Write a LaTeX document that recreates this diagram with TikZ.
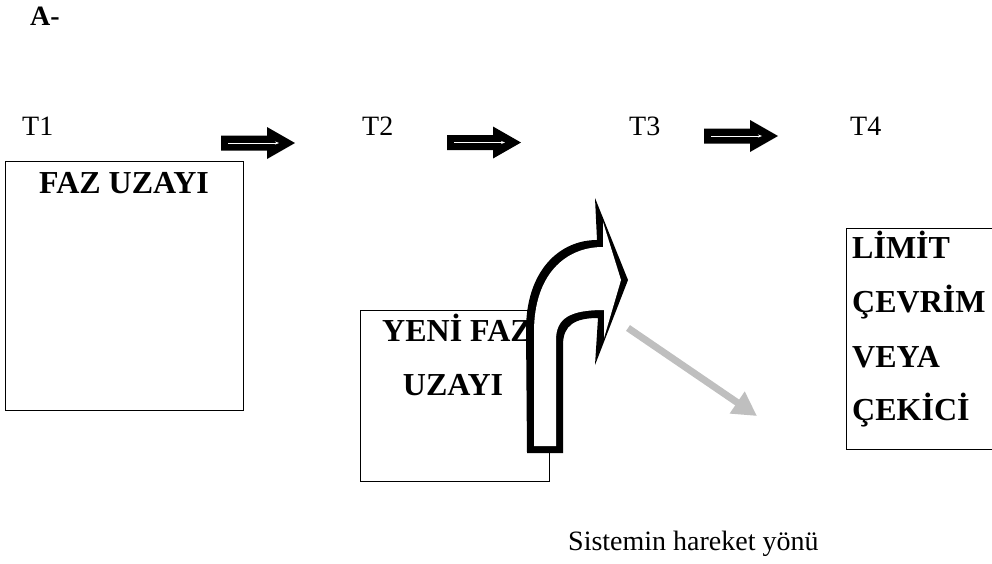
\documentclass[tikz,border=0pt]{standalone}
\usepackage{fontspec}
\setmainfont{Liberation Serif}
\usetikzlibrary{arrows.meta}
\definecolor{gri}{RGB}{191,191,191}

\begin{document}
\begin{tikzpicture}[x=1pt, y=-1pt,
    kutu/.style={line width=0.8pt},
    yazi/.style={font=\fontsize{28}{34}\selectfont, inner sep=0pt, anchor=base west},
    kalin/.style={font=\fontsize{32}{38}\selectfont\bfseries, inner sep=0pt, anchor=base west}]

    \useasboundingbox (0,0) rectangle (992,563);

    \node[kalin, font=\fontsize{28}{34}\selectfont\bfseries] (baslik) at (30,25) {A-};

    \node[yazi] (t1) at (22,135) {T1};
    \node[yazi] (t2) at (362,135) {T2};
    \node[yazi] (t3) at (629,135) {T3};
    \node[yazi] (t4) at (850,135) {T4};

    \foreach \x/\y in {221/143, 447/142.5, 704/136} {
        \fill (\x,\y-7.5) -- ++(46,0) -- ++(0,-8.5) -- (\x+74,\y) -- (\x+46,\y+16) -- ++(0,-8.5) -- (\x,\y+7.5) -- cycle;
        \draw[white, line width=0.8pt, -{Stealth[length=4pt,width=3pt]}] (\x+7,\y) -- (\x+58,\y);
    }

    \draw[kutu] (5,161) rectangle (243,410);
    \node[kalin, anchor=base] (faz) at (124,193) {FAZ UZAYI};

    \draw[kutu] (360,310) rectangle (549,481);
    \node[kalin] (yeni) at (382,341) {YENİ FAZ};
    \node[kalin, anchor=base] (uzayi) at (453,395) {UZAYI};

    \draw[kutu] (992,228) -- (846,228) -- (846,449) -- (992,449);
    \node[kalin] (limit) at (852,258) {LİMİT};
    \node[kalin] (cevrim) at (852,312) {ÇEVRİM};
    \node[kalin] (veya) at (852,367) {VEYA};
    \node[kalin] (cekici) at (852,420) {ÇEKİCİ};

    % bent arrow: black outline, white inside
    \fill (527,453) -- (563,453) -- (563,345) .. controls (563,325) and (575,318) .. (598,318)
        -- (595,365) -- (628,280) -- (595,198) -- (597,240)
        .. controls (560,240) and (526,270) .. (526,330) -- cycle;
    \fill[white] (534,446) -- (556,446) -- (556,340) .. controls (556,318) and (570,310) .. (604,310)
        -- (604,338) -- (621,280) -- (603,222) -- (603,247)
        .. controls (565,247) and (534,275) .. (534,332) -- cycle;

    \coordinate (yonbas) at (628,328);
    \coordinate (yonuc) at (757,416);
    \draw[gri, line width=7pt, -{Triangle[length=24pt,width=25pt]}] (yonbas) -- (yonuc);

    \node[yazi] (yon) at (568,550) {Sistemin hareket yönü};

\end{tikzpicture}
\end{document}
